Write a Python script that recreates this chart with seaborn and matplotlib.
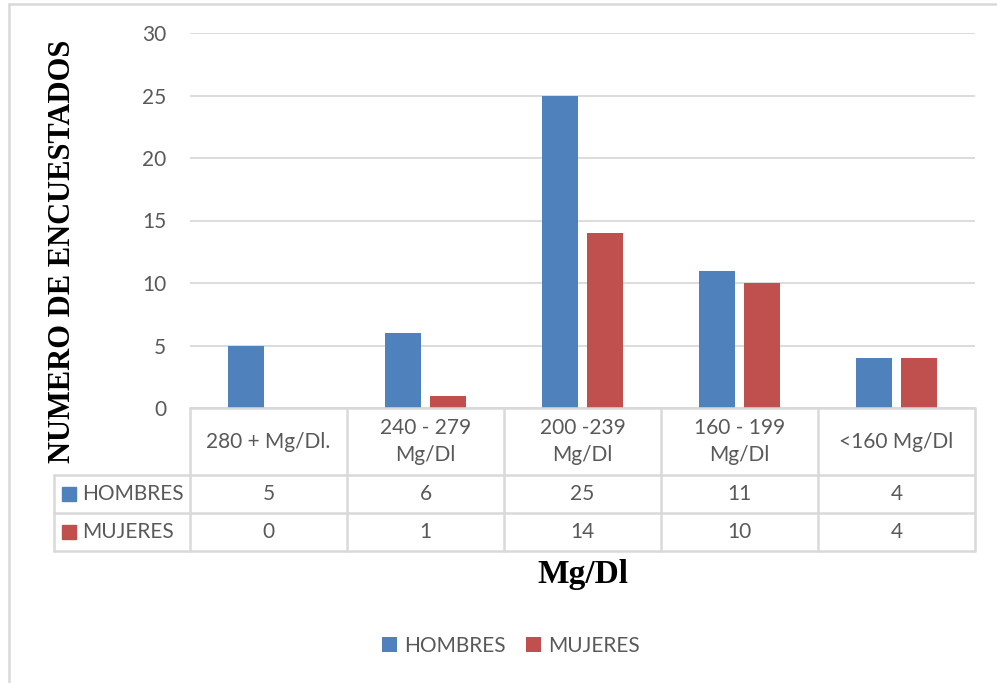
import matplotlib
matplotlib.use("Agg")
import matplotlib.pyplot as plt
from matplotlib.lines import Line2D
from matplotlib.patches import Rectangle
import numpy as np
import pandas as pd
import seaborn as sns

# data
categories = ["280 + Mg/Dl.", "240 - 279\nMg/Dl", "200 -239\nMg/Dl", "160 - 199\nMg/Dl", "<160 Mg/Dl"]
series = ["HOMBRES", "MUJERES"]
hombres = [5, 6, 25, 11, 4]
mujeres = [0, 1, 14, 10, 4]

PALETTE = ["#4F81BD", "#C0504D"]
TEXT = "#595959"
GRID = "#D9D9D9"
W, H = 997, 683
FS = 15

df = pd.DataFrame({
    "cat": categories * 2,
    "serie": [series[0]] * len(categories) + [series[1]] * len(categories),
    "val": hombres + mujeres,
})

sns.set_style("white")
plt.rcParams["font.family"] = ["Lato", "DejaVu Sans"]

fig = plt.figure(figsize=(W / 100, H / 100), dpi=100)
ax = fig.add_axes([190 / W, 1 - 408 / H, 785 / W, 375 / H])

sns.barplot(data=df, x="cat", y="val", hue="serie", order=categories,
            hue_order=series, palette=PALETTE, width=0.573, gap=0.22,
            saturation=1, linewidth=0, ax=ax, legend=True)

ax.set_ylim(0, 30)
ax.set_xlim(-0.5, len(categories) - 0.5)
ax.set_yticks(np.arange(0, 31, 5))
ax.yaxis.grid(True, color=GRID, linewidth=1.3)
ax.set_axisbelow(True)
for s in ax.spines.values():
    s.set_visible(False)
ax.tick_params(axis="y", length=0, pad=17, labelsize=FS, labelcolor=TEXT)
ax.set_xticks([])
ax.set_xlabel("")
ax.set_ylabel("")

# data table below the axes (axes coordinates)
def ya(px):
    return (408 - px) / 375

def xa(px):
    return (px - 190) / 785

lk = dict(transform=ax.transAxes, color=GRID, linewidth=1.8, clip_on=False)
n = len(categories)
y_top, y_h, y_r1, y_r2 = ya(408), ya(475), ya(513), ya(551)
x_lab = xa(54)
ax.add_line(Line2D([0, 1], [y_top, y_top], **lk))
for yy in (y_h, y_r1, y_r2):
    ax.add_line(Line2D([x_lab, 1], [yy, yy], **lk))
for i in range(n + 1):
    ax.add_line(Line2D([i / n, i / n], [y_top, y_r2], **lk))
ax.add_line(Line2D([x_lab, x_lab], [y_h, y_r2], **lk))

tk = dict(transform=ax.transAxes, ha="center", va="center", color=TEXT,
          fontsize=FS, clip_on=False)
for i, c in enumerate(categories):
    xc = (i + 0.5) / n
    ax.text(xc, (y_top + y_h) / 2, c, linespacing=1.45, **tk)
    ax.text(xc, (y_h + y_r1) / 2, str(hombres[i]), **tk)
    ax.text(xc, (y_r1 + y_r2) / 2, str(mujeres[i]), **tk)

for k, (name, (y0, y1)) in enumerate(zip(series, [(y_h, y_r1), (y_r1, y_r2)])):
    ym = (y0 + y1) / 2
    sq = 14 / 785
    ax.add_patch(Rectangle((xa(62), ym - 7 / 375), sq, 14 / 375,
                           transform=ax.transAxes, color=PALETTE[k],
                           clip_on=False))
    ax.text(xa(82), ym, name, transform=ax.transAxes, ha="left", va="center",
            color=TEXT, fontsize=FS, clip_on=False)

# legend
sns.move_legend(ax, "center", bbox_to_anchor=(511 / W, 1 - 646 / H),
                bbox_transform=fig.transFigure, ncol=2, frameon=False,
                title=None, fontsize=FS, handlelength=0.7, handleheight=0.7,
                handletextpad=0.35, columnspacing=1.0, labelcolor=TEXT)

# axis titles
fig.text(62 / W, 1 - 251 / H, "NUMERO DE ENCUESTADOS", rotation=90,
         ha="center", va="center", fontsize=22, fontweight="bold",
         family=["Liberation Serif", "DejaVu Serif"], color="black")
fig.text(583 / W, 1 - 575 / H, "Mg/Dl", ha="center", va="center",
         fontsize=24, fontweight="bold",
         family=["Liberation Serif", "DejaVu Serif"], color="black")

# chart area border
fig.add_artist(Line2D([9 / W, 9 / W], [0, 1 - 4 / H], transform=fig.transFigure,
                      color=GRID, linewidth=1.8))
fig.add_artist(Line2D([9 / W, 1], [1 - 4 / H, 1 - 4 / H], transform=fig.transFigure,
                      color=GRID, linewidth=1.8))

fig.savefig("out.png", dpi=100, facecolor="white")
